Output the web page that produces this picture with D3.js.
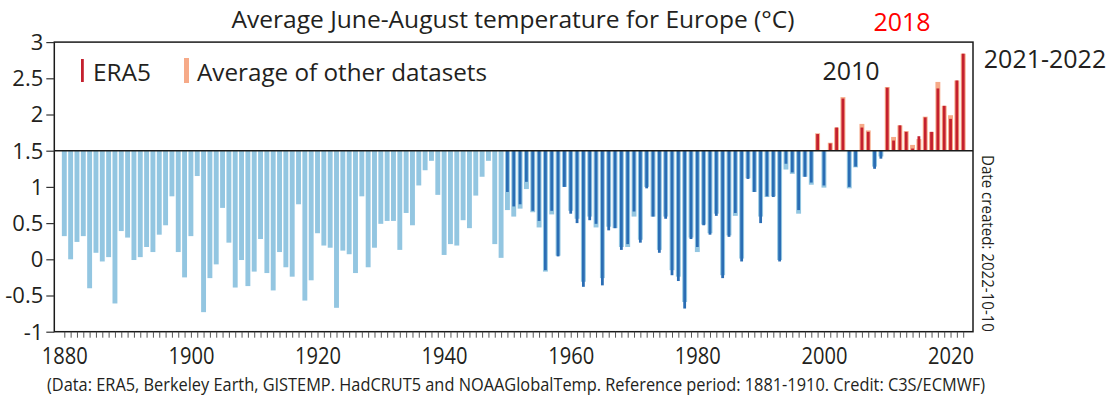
<!DOCTYPE html>
<html>
<head>
<meta charset="utf-8">
<script src="https://cdn.jsdelivr.net/npm/d3@7"></script>
<style>
  body { margin: 0; background: #fff; }
  svg { display: block; }
  text { font-family: "Open Sans", "Noto Sans", sans-serif; fill: #231f20; }
</style>
</head>
<body>
<svg id="chart" width="1109" height="407"></svg>
<script>
// June–August temperature for Europe (°C), 1880–2022
const firstYear = 1880;
const lastYear = 2022;
const era5Start = 1950;
const baseline = 1.5;

// Average of the other datasets, one value per year from 1880
const otherAvg = [
  0.32, 0.00, 0.24, 0.32, -0.40, 0.09, -0.03, 0.03, -0.61, 0.39,
  0.30, -0.01, 0.03, 0.17, 0.10, 0.34, 0.47, 0.87, 0.10, -0.25,
  0.32, 1.15, -0.73, -0.26, -0.07, 0.71, 0.23, -0.39, -0.01, -0.37,
  -0.17, 0.28, -0.19, -0.43, 0.10, -0.11, -0.24, 0.76, -0.57, -0.29,
  0.36, 0.19, 0.16, -0.67, 0.12, 0.07, -0.19, 0.87, -0.11, 0.16,
  0.49, 0.53, 0.53, 0.13, 0.64, 0.47, 1.02, 1.23, 1.36, 0.89,
  0.06, 0.21, 0.19, 0.54, 0.43, 0.88, 1.14, 1.36, 0.21, 0.02,
  0.68, 0.59, 0.70, 0.97, 0.65, 0.44, -0.17, 0.62, 0.05, 1.00,
  0.67, 0.56, -0.31, 0.59, 0.44, -0.26, 0.45, 0.43, 0.17, 0.17,
  0.59, 0.27, 1.00, 0.59, 0.13, 0.59, -0.15, -0.24, -0.59, 0.30,
  0.10, 0.48, 0.36, 0.63, -0.22, 0.33, 0.60, 0.01, 1.12, 0.93,
  0.59, 0.86, 0.87, -0.01, 1.24, 1.18, 0.63, 1.14, 1.03, 1.74,
  0.99, 1.61, 1.82, 2.24, 0.98, 1.27, 1.87, 1.78, 1.28, 1.42,
  2.38, 1.69, 1.85, 1.77, 1.58, 1.66, 1.97, 1.76, 2.45, 2.12,
  1.99, 2.47, 2.84
];

// ERA5, one value per year from 1950
const era5 = [
  0.93, 0.73, 0.76, 1.07, 0.67, 0.53, -0.15, 0.67, 0.04, 1.00,
  0.63, 0.50, -0.38, 0.54, 0.49, -0.36, 0.40, 0.43, 0.13, 0.21,
  0.66, 0.23, 0.98, 0.59, 0.09, 0.56, -0.22, -0.30, -0.68, 0.28,
  0.17, 0.47, 0.34, 0.60, -0.26, 0.31, 0.64, -0.03, 1.11, 0.93,
  0.50, 0.87, 0.86, -0.03, 1.32, 1.20, 0.68, 1.14, 1.06, 1.73,
  1.02, 1.60, 1.82, 2.22, 1.00, 1.28, 1.82, 1.76, 1.25, 1.39,
  2.37, 1.64, 1.85, 1.76, 1.53, 1.70, 1.96, 1.76, 2.36, 2.12,
  1.94, 2.47, 2.84
];

const yTickValues = [3, 2.5, 2, 1.5, 1, 0.5, 0, -0.5, -1];
const xLabelYears = [1880, 1900, 1920, 1940, 1960, 1980, 2000, 2020];

const colors = {
  coolOther: "#93c6e1",
  coolEra5: "#2a6db4",
  warmOther: "#f6aa88",
  warmEra5: "#c4202e"
};

const years = d3.range(firstYear, lastYear + 1);
const otherRows = years.map((yr, i) => ({ year: yr, value: otherAvg[i] }));
const era5Rows = era5.map((v, i) => ({ year: era5Start + i, value: v }));

const svg = d3.select("#chart");
const frame = { left: 54.3, right: 973, top: 42.1, bottom: 331.7 };

const x = d3.scaleLinear().domain([firstYear, lastYear]).range([64.3, 963.2]);
const y = d3.scaleLinear().domain([-1, 3]).range([frame.bottom, frame.top]);

const wideW = 4.9;
const narrowW = 2.8;

function barY(v) { return Math.min(y(v), y(baseline)); }
function barH(v) { return Math.abs(y(v) - y(baseline)); }

// wide bars: average of other datasets
svg.append("g").selectAll("rect")
  .data(otherRows)
  .join("rect")
  .attr("x", d => x(d.year) - wideW / 2)
  .attr("width", wideW)
  .attr("y", d => barY(d.value))
  .attr("height", d => barH(d.value))
  .attr("fill", d => d.value >= baseline ? colors.warmOther : colors.coolOther);

// narrow bars: ERA5
svg.append("g").selectAll("rect")
  .data(era5Rows)
  .join("rect")
  .attr("x", d => x(d.year) - narrowW / 2)
  .attr("width", narrowW)
  .attr("y", d => barY(d.value))
  .attr("height", d => barH(d.value))
  .attr("fill", d => d.value >= baseline ? colors.warmEra5 : colors.coolEra5);

// baseline at 1.5 °C
svg.append("line")
  .attr("x1", frame.left).attr("x2", frame.right)
  .attr("y1", y(baseline)).attr("y2", y(baseline))
  .attr("stroke", "#1a1a1a").attr("stroke-width", 1.6);

// frame
svg.append("rect")
  .attr("x", frame.left).attr("y", frame.top)
  .attr("width", frame.right - frame.left)
  .attr("height", frame.bottom - frame.top)
  .attr("fill", "none").attr("stroke", "#1a1a1a").attr("stroke-width", 1.5);

// y axis
const yAxis = svg.append("g")
  .attr("transform", `translate(${frame.left},0)`)
  .call(d3.axisLeft(y).tickValues(yTickValues).tickSize(8).tickPadding(3)
    .tickFormat(d => String(d)));
yAxis.select(".domain").remove();
yAxis.selectAll(".tick line").attr("stroke", "#333").attr("stroke-width", 1.2);
yAxis.selectAll(".tick text")
  .attr("font-size", 22)
  .attr("font-family", "'Open Sans', sans-serif")
  .attr("fill", "#231f20")
  .attr("dy", "0.34em");

// x axis: a tick for every year, labels every 20 years
const xAxis = svg.append("g")
  .attr("transform", `translate(0,${frame.bottom})`)
  .call(d3.axisBottom(x).tickValues(years).tickSize(6).tickPadding(9)
    .tickFormat(d => xLabelYears.includes(d) ? String(d) : ""));
xAxis.select(".domain").remove();
xAxis.selectAll(".tick line").attr("stroke", "#444").attr("stroke-width", 0.9);
xAxis.selectAll(".tick text")
  .attr("font-size", 24)
  .attr("font-family", "'Open Sans', sans-serif")
  .attr("fill", "#231f20")
  .each(function(d) {
    if (xLabelYears.includes(d)) {
      d3.select(this).attr("textLength", 46).attr("lengthAdjust", "spacingAndGlyphs");
    }
  });

// title
svg.append("text")
  .attr("x", 513).attr("y", 28)
  .attr("text-anchor", "middle")
  .attr("font-size", 23)
  .attr("fill", "#2b2b2b")
  .attr("textLength", 563).attr("lengthAdjust", "spacingAndGlyphs")
  .text("Average June-August temperature for Europe (°C)");

// legend
svg.append("rect").attr("x", 81).attr("y", 59).attr("width", 2.8).attr("height", 23)
  .attr("fill", colors.warmEra5);
svg.append("text").attr("x", 93).attr("y", 81).attr("font-size", 24)
  .attr("textLength", 58).attr("lengthAdjust", "spacingAndGlyphs")
  .text("ERA5");
svg.append("rect").attr("x", 184).attr("y", 58).attr("width", 5).attr("height", 25)
  .attr("fill", colors.warmOther);
svg.append("text").attr("x", 197).attr("y", 81).attr("font-size", 24)
  .attr("textLength", 290).attr("lengthAdjust", "spacingAndGlyphs")
  .text("Average of other datasets");

// year callouts
svg.append("text").attr("x", 851).attr("y", 80).attr("text-anchor", "middle")
  .attr("font-family", "Lato, 'Open Sans', sans-serif")
  .attr("font-size", 25).attr("fill", "#000")
  .text("2010");
svg.append("text").attr("x", 902).attr("y", 31).attr("text-anchor", "middle")
  .attr("font-family", "Lato, 'Open Sans', sans-serif")
  .attr("font-size", 25).style("fill", "#ff0000")
  .text("2018");
svg.append("text").attr("x", 1045).attr("y", 68).attr("text-anchor", "middle")
  .attr("font-family", "Lato, 'Open Sans', sans-serif")
  .attr("font-size", 25).attr("fill", "#000")
  .text("2021-2022");

// creation date, vertical
svg.append("text")
  .attr("transform", "translate(982,155) rotate(90)")
  .attr("font-size", 16)
  .attr("fill", "#333")
  .attr("textLength", 177).attr("lengthAdjust", "spacingAndGlyphs")
  .text("Date created: 2022-10-10");

// source line, condensed horizontally
svg.append("text")
  .attr("transform", "translate(47,391) scale(1,1.18)")
  .attr("font-size", 15.5)
  .attr("fill", "#333")
  .attr("textLength", 938).attr("lengthAdjust", "spacingAndGlyphs")
  .text("(Data: ERA5, Berkeley Earth, GISTEMP. HadCRUT5 and NOAAGlobalTemp.  Reference period: 1881-1910.  Credit: C3S/ECMWF)");
</script>
</body>
</html>
